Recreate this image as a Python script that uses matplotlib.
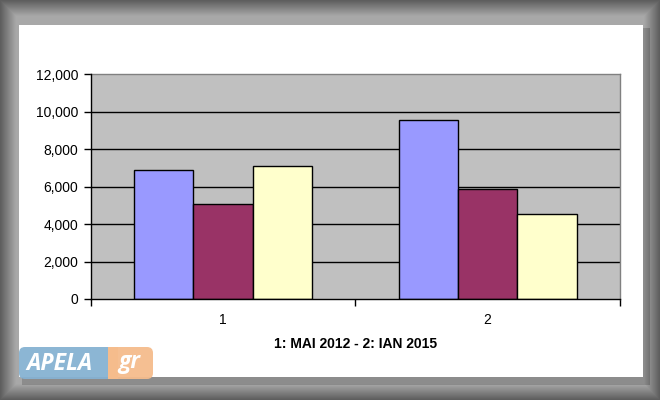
import numpy as np
import matplotlib
matplotlib.use("Agg")
import matplotlib.pyplot as plt
from matplotlib.patches import FancyBboxPatch, Rectangle

plt.rcParams['font.family'] = ['Liberation Sans', 'DejaVu Sans']

categories = ["1", "2"]
series_a = [6875, 9546]
series_b = [5060, 5860]
series_c = [7090, 4525]
colors = ["#9999FF", "#993366", "#FFFFCC"]
yticks = [0, 2000, 4000, 6000, 8000, 10000, 12000]
xlabel = "1: MAI 2012 - 2: IAN 2015"

W, H = 660, 400
fig = plt.figure(figsize=(6.6, 4.0), dpi=100)

# Background frame with gradient
bg = fig.add_axes([0, 0, 1, 1])
bg.set_xlim(0, W); bg.set_ylim(H, 0); bg.axis('off')
yy, xx = np.mgrid[0:H, 0:W] + 0.5
d = np.minimum.reduce([xx, yy, W - xx, H - yy])
val = 0.36 + 0.30 * np.clip(d / 16.0, 0, 1)
sh = np.zeros_like(val)
inside_x = (xx > 22) & (xx < 650)
inside_y = (yy > 28) & (yy < 385)
sh += np.where(inside_x & inside_y, 0.18, 0.0)
val = np.clip(val - sh * 0.6, 0, 1)
bg.imshow(np.dstack([val, val, val]), extent=(0, W, H, 0), aspect='auto', zorder=0)
bg.add_patch(Rectangle((19, 25), 624, 352, facecolor='white', edgecolor='none', zorder=1))

# logo
bg.add_patch(FancyBboxPatch((19, 347), 97, 32, boxstyle="round,pad=0,rounding_size=6",
                            facecolor="#86B2D2", edgecolor='none', alpha=0.95, zorder=3))
bg.add_patch(FancyBboxPatch((108, 347), 45, 32, boxstyle="round,pad=0,rounding_size=6",
                            facecolor="#F5BC8C", edgecolor='none', alpha=0.95, zorder=3))
bg.add_patch(Rectangle((108, 347), 10, 32, facecolor="#F5BC8C", edgecolor='none', zorder=3))
bg.text(26, 364, "APELA", color='white', fontsize=16.5, fontweight='bold', style='italic',
        va='center', ha='left', zorder=4, family=['Open Sans', 'DejaVu Sans'])
bg.text(118, 362, "gr", color='white', fontsize=16.5, fontweight='bold', style='italic',
        va='center', ha='left', zorder=4, family=['Open Sans', 'DejaVu Sans'])

# Chart axes
ax = fig.add_axes([90.7 / W, 1 - 299 / H, (620 - 90.7) / W, (299 - 74.3) / H])
ax.set_facecolor("#C0C0C0")
x = np.arange(len(categories))
w = 0.2245
for i, (vals, c) in enumerate(zip([series_a, series_b, series_c], colors)):
    ax.bar(x + (i - 1) * w, vals, width=w, color=c, edgecolor='black', linewidth=1.0, zorder=3)

ax.set_xlim(-0.5, 1.5)
ax.set_ylim(0, 12000)
ax.set_yticks(yticks)
ax.set_yticklabels([f"{v:,}" for v in yticks], fontsize=10)
for v in yticks[1:-1]:
    ax.axhline(v, color='black', linewidth=1.0, zorder=1)
ax.set_xticks(x)
ax.set_xticklabels(categories, fontsize=10)
ax.tick_params(axis='x', which='major', length=0, pad=10)
ax.set_xticks([-0.5, 0.5, 1.5], minor=True)
ax.tick_params(axis='x', which='minor', length=5, width=1, color='black', direction='out')
ax.tick_params(axis='y', length=5, width=1, direction='out', pad=4)
for s in ['left', 'bottom']:
    ax.spines[s].set_color('black'); ax.spines[s].set_linewidth(1.0); ax.spines[s].set_zorder(4)
for s in ['top', 'right']:
    ax.spines[s].set_color('#808080'); ax.spines[s].set_linewidth(1.0)
ax.set_xlabel(xlabel, fontsize=10, fontweight='bold', labelpad=7)

fig.savefig("out.png", dpi=100)
